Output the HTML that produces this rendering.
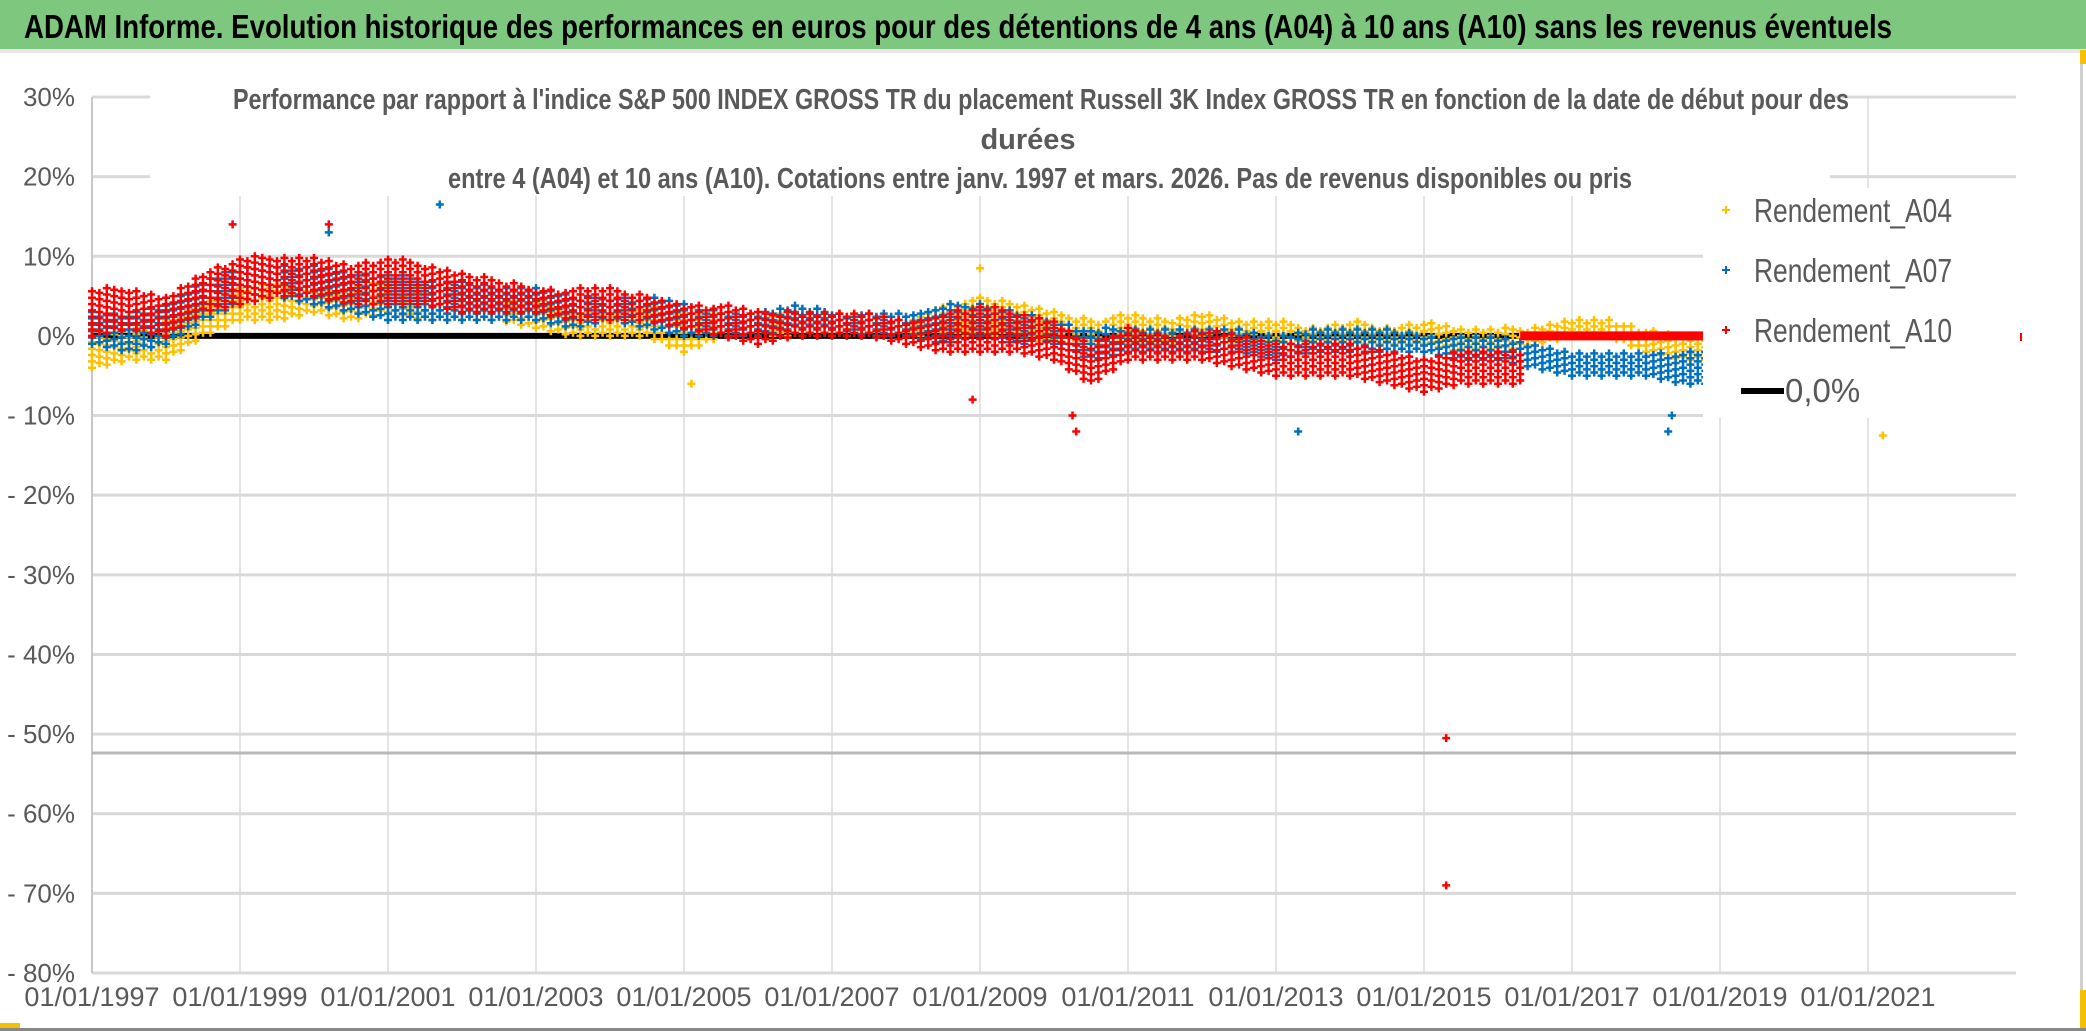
<!DOCTYPE html>
<html><head><meta charset="utf-8"><style>
html,body{margin:0;padding:0;background:#fff;}
svg{display:block;font-family:"Liberation Sans Narrow","Liberation Sans",sans-serif;}
</style></head><body>
<svg id="chart" width="2086" height="1031" viewBox="0 0 2086 1031" xmlns="http://www.w3.org/2000/svg">
<rect x="0" y="0" width="2086" height="1031" fill="#fff"/>
<rect x="0" y="0" width="2086" height="49" fill="#7ec77e"/>
<rect x="0" y="49" width="2086" height="4" fill="#e6e6e6"/>
<text x="24" y="38" font-size="33" font-weight="bold" fill="#000" textLength="1868" lengthAdjust="spacingAndGlyphs">ADAM Informe. Evolution historique des performances en euros pour des détentions de 4 ans (A04) à 10 ans (A10) sans les revenus éventuels</text>
<rect x="2080" y="55" width="3" height="970" fill="#d0d0d0"/>
<rect x="2080" y="50" width="6" height="14" fill="#f5c000"/>
<rect x="2080" y="990" width="6" height="40" fill="#f5c000"/>
<rect x="0" y="1023" width="20" height="8" fill="#f5c000"/>
<rect x="0" y="1028" width="2086" height="3" fill="#888"/>
<g id="grid"></g>
<g id="series"></g>
<g id="overlay"></g>
</svg>
<script>
const yTicks=[30,20,10,0,-10,-20,-30,-40,-50,-60,-70,-80];
const yTickLabels=["30%","20%","10%","0%","- 10%","- 20%","- 30%","- 40%","- 50%","- 60%","- 70%","- 80%"];
const xTicks=[1997,1999,2001,2003,2005,2007,2009,2011,2013,2015,2017,2019,2021];
const xTickLabels=["01/01/1997","01/01/1999","01/01/2001","01/01/2003","01/01/2005","01/01/2007","01/01/2009","01/01/2011","01/01/2013","01/01/2015","01/01/2017","01/01/2019","01/01/2021"];
const datesA=[1997,1997.5,1998,1998.5,1999,1999.5,2000,2000.5,2001,2001.5,2002,2002.5,2003,2003.5,2004,2004.5,2005,2005.5,2006,2006.5,2007,2007.5,2008,2008.5,2009,2009.5,2010,2010.5,2011,2011.5,2012,2012.5,2013,2013.5,2014,2014.5,2015,2015.5,2016,2016.5,2017,2017.5,2018,2018.5,2018.8];
const a04Lo=[-4,-3,-3,0,2,2,3,2,3,2,2,2,1,0,0,0,-2,0,0,0,0,0,0,0,0,0,-1,-1,-1,-1,0,-1,-1,-1,-1,-1,-1,-2,-2,-1,0,0,-2,-3,-3];
const a04Hi=[1,1,2,4,6,7,6,6,7,6,6,5,5,3,3,4,3,3,3,3,3,3,2,4,5,4,3,2,3,2,3,2,2,1,2,1,2,1,1,1,2,2,1,0,0];
const a07Lo=[-1,-2,-1,2,4,5,4,3,2,2,2,2,2,1,2,1,0,0,0,1,1,0,0,-1,0,-1,-1,-3,-2,-2,-2,-2,-3,-2,-2,-2,-2,-3,-3,-4,-5,-5,-5,-6,-6];
const a07Hi=[3,3,4,7,9,9,9,8,8,7,7,6,6,5,5,5,4,3,3,4,3,3,3,4,4,3,2,1,1,1,1,1,0,1,1,1,0,0,0,-1,-2,-2,-2,-2,-2];
const datesC=[1997,1997.5,1998,1998.5,1999,1999.5,2000,2000.5,2001,2001.5,2002,2002.5,2003,2003.5,2004,2004.5,2005,2005.5,2006,2006.5,2007,2007.5,2008,2008.5,2009,2009.5,2010,2010.5,2011,2011.5,2012,2012.5,2013,2013.5,2014,2014.5,2015,2015.5,2016,2016.3];
const a10Lo=[0,1,0,3,4,5,5,4,4,4,3,3,3,2,2,2,1,0,-1,0,0,0,-1,-2,-2,-2,-3,-6,-3,-3,-3,-4,-5,-5,-5,-6,-7,-6,-6,-6];
const a10Hi=[6,6,5,8,10,10,10,9,10,9,8,7,6,6,6,5,4,4,3,3,3,3,2,3,4,3,2,-1,1,0,1,0,-1,-1,-1,-2,-3,-2,-2,-2];
const a10FlatStart=2016.3, a10FlatEnd=2018.8, a10FlatValue=0;
const outlierA04=[[2021.2,-12.5],[2005.1,-6],[2009,8.5]];
const outlierA07=[[2001.7,16.5],[2013.3,-12],[2018.3,-12],[2018.35,-10],[2000.2,13]];
const outlierA10=[[2010.3,-12],[2010.25,-10],[2015.3,-50.5],[2015.3,-69],[1998.9,14],[2000.2,14],[2008.9,-8]];
const zeroLineStart=1997, zeroLineEnd=2016.3;

const X0=92, X1=2016, xMin=1997, xMax=2023;
const Y0=97, Y1=973, yMax=30, yMin=-80;
const xs=d=>X0+(d-xMin)/(xMax-xMin)*(X1-X0);
const ys=v=>Y0+(yMax-v)/(yMax-yMin)*(Y1-Y0);
const NS="http://www.w3.org/2000/svg";
function mk(tag,attrs,parent){const e=document.createElementNS(NS,tag);for(const k in attrs)e.setAttribute(k,attrs[k]);parent.appendChild(e);return e;}
const grid=document.getElementById('grid'),series=document.getElementById('series'),overlay=document.getElementById('overlay');

xTicks.forEach((t,i)=>{
  const l=mk('line',{x1:xs(t),x2:xs(t),y1:Y0,y2:Y1,stroke:'#dcdcdc','stroke-width':1.5},grid);
  
  
  const tx=mk('text',{x:xs(t),y:1006,'font-size':27,fill:'#595959','text-anchor':'middle'},grid);
  tx.textContent=xTickLabels[i];
  
  
});
yTicks.forEach((t,i)=>{
  const l=mk('line',{x1:X0,x2:X1,y1:ys(t),y2:ys(t),stroke:'#d9d9d9','stroke-width':3},grid);
  
  
  const tx=mk('text',{x:75,y:ys(t)+9,'font-size':26,fill:'#595959','text-anchor':'end'},grid);
  tx.textContent=yTickLabels[i];
  
  
});
const yax=mk('line',{x1:X0,x2:X0,y1:Y0,y2:Y1,stroke:'#c8c8c8','stroke-width':2},grid);


const extra=mk('line',{x1:X0,x2:X1,y1:753,y2:753,stroke:'#b8b8b8','stroke-width':3},grid);



const zl=mk('line',{x1:xs(zeroLineStart),x2:xs(zeroLineEnd),y1:ys(0),y2:ys(0),stroke:'#000','stroke-width':6},series);



function interp(d,dates,vals){
  for(let i=0;i<dates.length-1;i++){if(d<=dates[i+1]){const f=(d-dates[i])/(dates[i+1]-dates[i]);return vals[i]+f*(vals[i+1]-vals[i]);}}
  return vals[vals.length-1];
}
function crosses(pts,color,name,sz,sw){
  let d='';
  pts.forEach(p=>{const x=xs(p[0]),y=ys(p[1]);d+=`M${(x-sz).toFixed(1)} ${y.toFixed(1)}h${2*sz}M${x.toFixed(1)} ${(y-sz).toFixed(1)}v${2*sz}`;});
  const e=mk('path',{d:d,stroke:color,'stroke-width':sw,fill:'none'},series);
  
  
}
function band(dates,lo,hi){
  const pts=[];let k=0;
  for(let d=dates[0];d<=dates[dates.length-1]+1e-9;d+=0.1){
    const a=interp(d,dates,lo),b=interp(d,dates,hi);
    const off=(k%2)*0.4;k++;
    for(let v=a+off;v<=b;v+=0.8)pts.push([d,v]);
  }
  return pts;
}
crosses(band(datesA,a04Lo,a04Hi),'#ffc000','series-a04-markers',4,2.5);
crosses(outlierA04,'#ffc000','series-a04-outliers',4,2.5);
crosses(band(datesA,a07Lo,a07Hi),'#0070c0','series-a07-markers',4,2.5);
crosses(outlierA07,'#0070c0','series-a07-outliers',4,2.5);
crosses(band(datesC,a10Lo,a10Hi),'#ff0000','series-a10-markers',4,2.5);
crosses(outlierA10,'#ff0000','series-a10-outliers',4,2.5);
const fl=mk('line',{x1:xs(a10FlatStart),x2:xs(a10FlatEnd),y1:ys(a10FlatValue),y2:ys(a10FlatValue),stroke:'#ff0000','stroke-width':9},series);



const tb=mk('rect',{x:150,y:66,width:1680,height:130,fill:'#fff'},overlay);


const titles=[[233,109,"Performance par rapport à l'indice S&P 500 INDEX GROSS TR  du placement Russell 3K Index GROSS TR en fonction de la date de début pour des",1616],[1028,149,"durées",null],[448,188,"entre 4 (A04) et 10 ans (A10). Cotations entre janv. 1997 et mars. 2026. Pas de revenus disponibles ou pris",1184]];
titles.forEach((t,i)=>{
  const a={x:t[0],y:t[1],'font-size':29,'font-weight':'bold',fill:'#595959'};
  if(t[3])a.textLength=t[3],a.lengthAdjust='spacingAndGlyphs';else a['text-anchor']='middle';
  const e=mk('text',a,overlay);e.textContent=t[2];
  
  
});
const lb=mk('rect',{x:1703,y:188,width:318,height:230,fill:'#fff'},overlay);


const legend=[["Rendement_A04",'#ffc000',221],["Rendement_A07",'#0070c0',281],["Rendement_A10",'#ff0000',341]];
legend.forEach(l=>{
  const g=mk('g',{},overlay);
  
  
  mk('path',{d:`M${1726-4} ${l[2]-11}h8M1726 ${l[2]-15}v8`,stroke:l[1],'stroke-width':2},g);
  const t=mk('text',{x:1754,y:l[2]+1,'font-size':33,fill:'#595959',textLength:198,lengthAdjust:'spacingAndGlyphs'},g);t.textContent=l[0];
});
const g0=mk('g',{},overlay);


mk('line',{x1:1741,x2:1784,y1:391,y2:391,stroke:'#000','stroke-width':6},g0);
const t0=mk('text',{x:1785,y:402,'font-size':33,fill:'#595959'},g0);t0.textContent="0,0%";
const stray=mk('path',{d:`M${2021} 333v8`,stroke:'#ff0000','stroke-width':2},overlay);


</script>
</body></html>
